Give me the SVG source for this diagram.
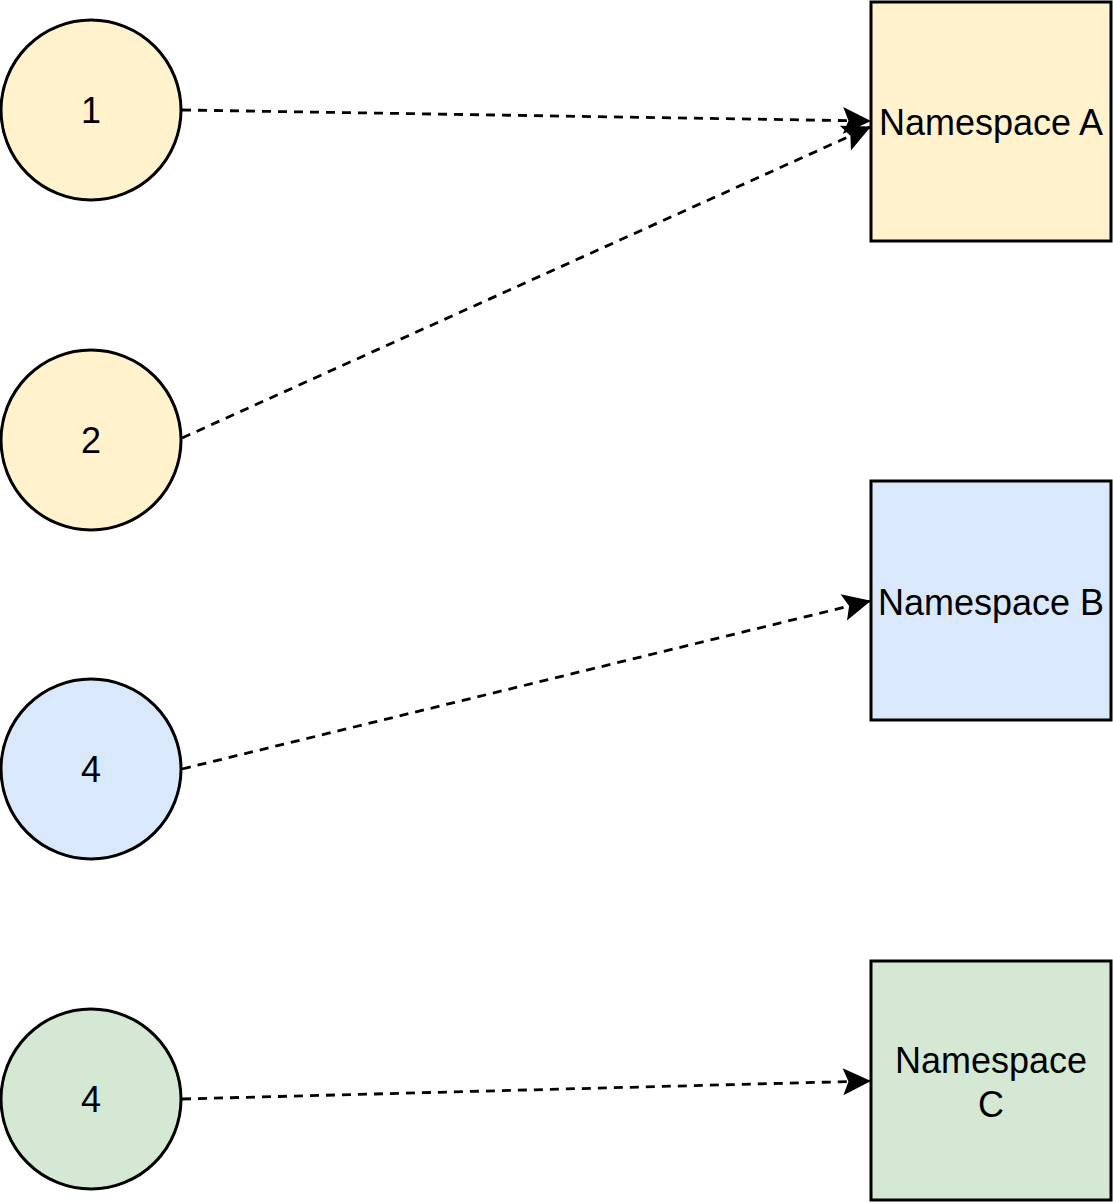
<svg xmlns="http://www.w3.org/2000/svg" width="1113" height="1203" viewBox="0 0 1113 1203">
<style>
.node{stroke:#000;stroke-width:3}
.y{fill:#fff2cc}.b{fill:#dae8fc}.g{fill:#d5e8d4}
text{font-family:"Liberation Sans",Arial,sans-serif;font-size:36px;fill:#000;text-anchor:middle}
.edge{fill:none;stroke:#000;stroke-width:2.8;stroke-dasharray:9 7}
</style>
<defs>
<marker id="arr" markerUnits="userSpaceOnUse" markerWidth="32" markerHeight="32" viewBox="0 0 32 32" refX="29" refY="16" orient="auto">
<path d="M30,16 L2,2.5 L7.5,16 L2,29.5 Z" fill="#000"/>
</marker>
</defs>
<rect width="1113" height="1203" fill="#fff"/>
<g id="connectors">
<line class="edge" x1="182" y1="110" x2="870" y2="121" marker-end="url(#arr)"/>
<line class="edge" x1="182" y1="438" x2="870" y2="127" marker-end="url(#arr)"/>
<line class="edge" x1="182" y1="769" x2="870" y2="601" marker-end="url(#arr)"/>
<line class="edge" x1="182" y1="1099" x2="870" y2="1081" marker-end="url(#arr)"/>
</g>
<g id="n1"><circle class="node y" cx="91" cy="110" r="90"/><text x="91" y="123">1</text></g>
<g id="n2"><circle class="node y" cx="91" cy="440" r="90"/><text x="91" y="453">2</text></g>
<g id="n3"><circle class="node b" cx="91" cy="769" r="90"/><text x="91" y="782">4</text></g>
<g id="n4"><circle class="node g" cx="91" cy="1099" r="90"/><text x="91" y="1112">4</text></g>
<g id="nsA"><rect class="node y" x="871" y="2" width="240" height="239"/><text x="991" y="135">Namespace A</text></g>
<g id="nsB"><rect class="node b" x="871" y="481" width="240" height="239"/><text x="991" y="615">Namespace B</text></g>
<g id="nsC"><rect class="node g" x="871" y="961" width="240" height="239"/><text x="991" y="1073">Namespace</text><text x="991" y="1117">C</text></g>
</svg>
